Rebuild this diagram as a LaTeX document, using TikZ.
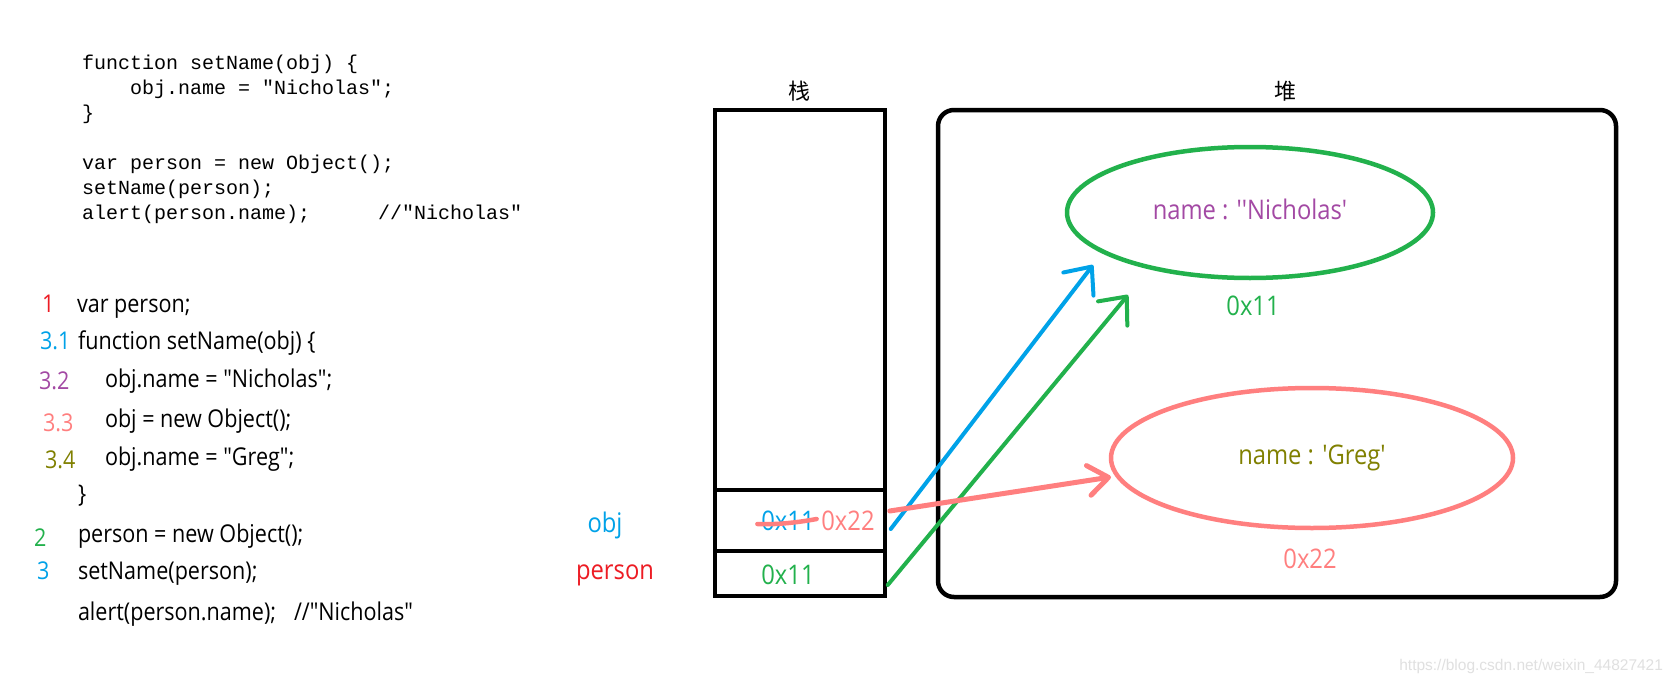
\documentclass[tikz,border=0pt]{standalone}
\usepackage{fontspec}
\newfontfamily\yahei[FakeStretch=0.88]{Open Sans}
\newfontfamily\courier{Liberation Mono}
\newfontfamily\cjk{Noto Sans CJK SC}
\newfontfamily\markfont{Liberation Sans}
\usetikzlibrary{arrows.meta,shapes.geometric,positioning}

\definecolor{paintblue}{HTML}{00A2E8}
\definecolor{paintgreen}{HTML}{22B14C}
\definecolor{paintpink}{HTML}{FF7F7F}
\definecolor{paintred}{HTML}{ED1C24}
\definecolor{paintpurple}{HTML}{A349A4}
\definecolor{paintolive}{HTML}{808000}

\begin{document}
\begin{tikzpicture}[
    x=1pt, y=-1pt,
    every node/.style={inner sep=0pt, outer sep=0pt},
    code/.style={font=\courier\fontsize{20}{25}\selectfont, align=left, anchor=north west},
    src/.style={font=\yahei\fontsize{24.5}{29}\selectfont, text height=17.5pt, text depth=5pt, anchor=west},
    num/.style={src, text=#1},
    title/.style={font=\cjk\fontsize{22}{26}\selectfont},
    cell/.style={rectangle, draw, line width=4.5pt, minimum width=170pt},
    heapbox/.style={rectangle, draw, line width=4.5pt, rounded corners=16pt, minimum width=678pt, minimum height=487pt},
    mem/.style={ellipse, draw=#1, line width=4.5pt},
    addr/.style={font=\yahei\fontsize{27}{32}\selectfont, text height=19.5pt, text depth=6pt, anchor=center, text=#1},
    ref/.style={draw=#1, line width=4pt, line cap=round, -{Straight Barb[length=22pt,width=38pt,round]}}
]
\path[fill=white, use as bounding box] (0,0) rectangle (1670,685);

% code as printed
\node[code] (jsplain) at (82,52) {\strut function setName(obj) \{\\
\ \ \ \ obj.name = "Nicholas";\\
\}\\[25pt]
var person = new Object();\\
setName(person);\\
alert(person.name);\hspace*{68pt}//"Nicholas"};

% code with steps
\node[num=paintred] (n1) at (42,306) {1};
\node[src] (l1) at (77,306) {var person;};
\node[num=paintblue] (n31) at (40,343) {3.1};
\node[src] (l31) at (78,343) {function setName(obj) \{};
\node[num=paintpurple] (n32) at (39,383) {3.2};
\node[src] (l32) at (105,381) {obj.name = "Nicholas";};
\node[num=paintpink] (n33) at (43,425) {3.3};
\node[src] (l33) at (105,421) {obj = new Object();};
\node[num=paintolive] (n34) at (45,462) {3.4};
\node[src] (l34) at (105,459) {obj.name = "Greg";};
\node[src] (lend) at (78,496) {\}};
\node[num=paintgreen] (n2) at (34,540) {2};
\node[src] (l2) at (78,536) {person = new Object();};
\node[num=paintblue] (n3) at (37,573) {3};
\node[src] (l3) at (78,573) {setName(person);};
\node[src] (lalert) at (78,614) {alert(person.name);};
\node[src] (lnote) at (294,614) {//"Nicholas"};

% stack
\node[cell, minimum height=380pt] (stackfree) at (799.75,300) {};
\node[cell, minimum height=61pt, below=0pt of stackfree] (objcell) {};
\node[cell, minimum height=45pt, below=0pt of objcell] (personcell) {};
\node[title, above=9pt of stackfree] (stacklbl) {栈};
\node[addr=paintblue] (oldaddr) at (788,524) {0x11};
\node[addr=paintpink] (newaddr) at (848,524) {0x22};
\node[addr=paintgreen] (personaddr) at (788,578) {0x11};
\node[addr=paintblue] (objlbl) at (605,526) {obj};
\node[addr=paintred] (personlbl) at (615,573) {person};
\draw[paintpink, line width=4.5pt, line cap=round] ([xshift=-4pt]oldaddr.west) .. controls +(20pt,-1pt) and +(-16pt,-3pt) .. ([xshift=2pt,yshift=5pt]oldaddr.east);

% heap
\node[heapbox] (heap) at (1277,353.5) {};
\node[title, above=9pt of heap, xshift=8pt] (heaplbl) {堆};
\node[mem=paintgreen, minimum width=366pt, minimum height=131pt, addr=paintpurple] (nicholasobj) at (1250,212.5) {name : ''Nicholas'};
\node[addr=paintgreen] (nicholasaddr) at (1253,309) {0x11};
\node[mem=paintpink, minimum width=402pt, minimum height=140pt, addr=paintolive] (gregobj) at (1312,458) {name : 'Greg'};
\node[addr=paintpink] (gregaddr) at (1310,562) {0x22};

% references
\coordinate (bluetip) at (1093,265);
\coordinate (greentip) at (1128,295);
\coordinate (pinktip) at (1111,477);
\draw[ref=paintblue] ([xshift=6pt,yshift=-8.5pt]objcell.east) -- (bluetip);
\draw[ref=paintgreen] ([xshift=3pt,yshift=-11.5pt]personcell.east) -- (greentip);
\draw[ref=paintpink, line width=5pt, -{Straight Barb[length=20pt,width=30pt,round]}] ([xshift=5pt,yshift=9.5pt]objcell.east) -- (pinktip);

\node[font=\markfont\fontsize{15.5}{18}\selectfont, text=black!12, anchor=east] (watermark) at (1663,666) {https://blog.csdn.net/weixin\_44827421};
\end{tikzpicture}
\end{document}
